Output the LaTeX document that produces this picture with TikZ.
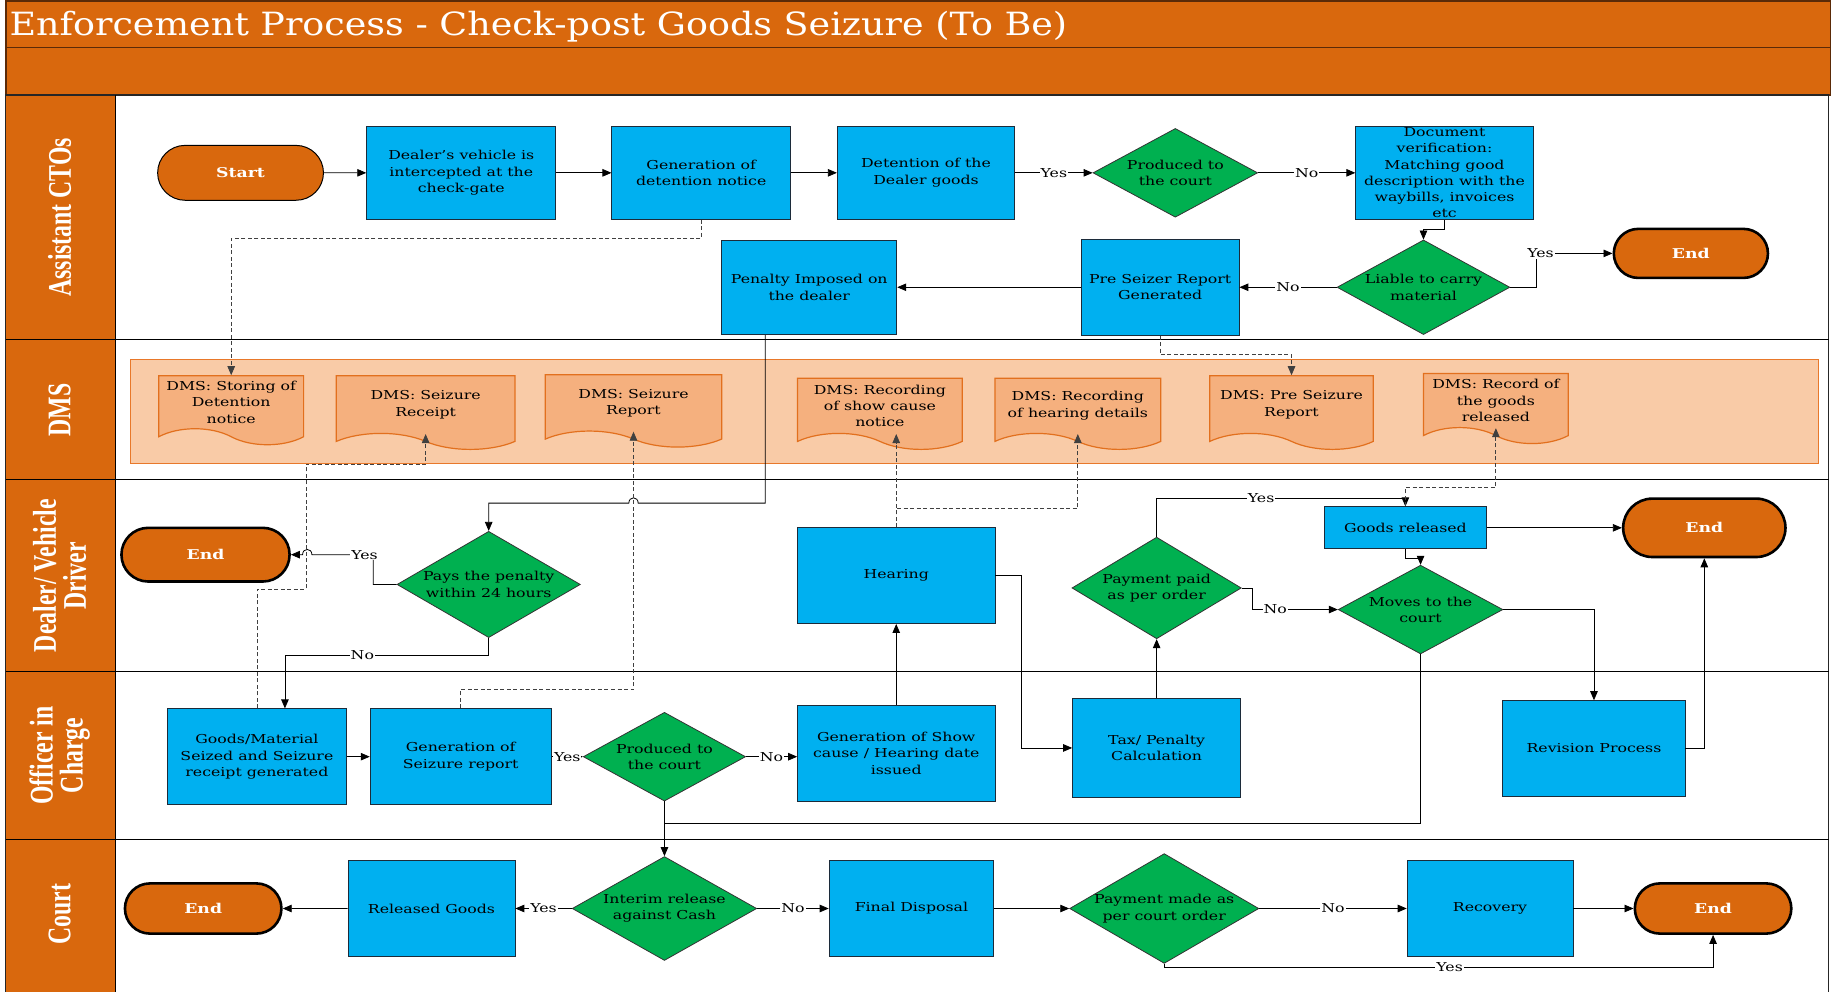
\documentclass[tikz,border=0pt]{standalone}
\usepackage{fontspec}
\setmainfont{DejaVu Serif}[FakeStretch=1.28]
\newfontfamily\headfont{Liberation Serif}[FakeStretch=0.72]
\newfontfamily\titlefont{DejaVu Serif}[FakeStretch=1.14]
\usetikzlibrary{shapes.geometric,shapes.misc,shapes.symbols,calc,arrows.meta}

\definecolor{hdr}{HTML}{D9680D}
\definecolor{bandedge}{HTML}{5A2A08}
\definecolor{procblue}{HTML}{00B0F0}
\definecolor{decgreen}{HTML}{00B050}
\definecolor{dmsfill}{HTML}{F9CBA7}
\definecolor{dmsedge}{HTML}{E8782A}
\definecolor{docfill}{HTML}{F5B07E}
\definecolor{docedge}{HTML}{E2701E}
\definecolor{boxedge}{HTML}{1C2B3A}

\tikzset{
  sz/.style 2 args={minimum width=#1*1.1677pt, minimum height=#2*1.1677pt},
  txt/.style={inner sep=0pt, font=\fontsize{12.3}{16.3}\selectfont, align=center},
  proc/.style={txt, rectangle, draw=boxedge, line width=0.8pt, fill=procblue},
  dec/.style={txt, diamond, draw=black!80, line width=0.8pt, fill=decgreen},
  term/.style={rounded rectangle, draw=black, line width=1pt, fill=hdr, text=white,
    font=\fontsize{13.5}{15}\selectfont\bfseries, inner sep=0pt},
  termend/.style={term, line width=2.6pt},
  doc/.style={txt, tape, tape bend top=none, tape bend bottom=out and in,
    tape bend height=16pt, draw=docedge, line width=1.2pt, fill=docfill},
  tip/.style={-{Triangle[length=9pt,width=7.5pt]}},
  link/.style={draw=black, line width=0.8pt},
  flow/.style={link, tip},
  dlink/.style={draw=black!75, line width=0.8pt, dash pattern=on 4pt off 2.5pt, tip},
  lbl/.style={fill=white, inner sep=1pt, font=\fontsize{12.3}{14}\selectfont},
  headtxt/.style={text=white, align=center, rotate=90,
    font=\headfont\bfseries\fontsize{33}{30}\selectfont},
}

\begin{document}
\begin{tikzpicture}[x=1.1677pt, y=-1.1677pt]
\useasboundingbox (0,0) rectangle (1568,849);

% title bands
\fill[hdr] (5,0) rectangle (1568,81.4);
\draw[bandedge, line width=1.5pt] (5,0.7) rectangle (1568,40.8);
\draw[bandedge, line width=1.5pt] (5,40.8) rectangle (1568,81.4);
\node[anchor=base west, text=white, inner sep=0pt,
  font=\titlefont\fontsize{32}{36}\selectfont] (title) at (8,30)
  {Enforcement Process - Check-post Goods Seizure (To Be)};

% swimlanes
\fill[hdr] (5,81.4) rectangle (98.5,860);
\draw[line width=1.2pt, black!85] (5,81.4) rectangle (1566,860);
\draw[line width=1pt] (98.5,81.4) -- (98.5,860);
\foreach \yy in {290.5,411,575,718.5}
  \draw[line width=1pt] (5,\yy) -- (1566,\yy);

\node[headtxt] (hcto) at (51,186) {Assistant CTOs};
\node[headtxt] (hdms) at (51,351) {DMS};
\node[headtxt] (hdlr) at (51,493) {Dealer/ Vehicle\\Driver};
\node[headtxt] (hoic) at (51,647) {Officer in\\Charge};
\node[headtxt] (hcrt) at (51,783) {Court};

% DMS container and documents
\draw[dmsedge, fill=dmsfill, line width=1.2pt] (112,308) rectangle (1557,397);
\node[doc, sz={124}{59}] (m1) at (198,344.5) {DMS: Storing of\\Detention\\notice};
\node[doc, sz={153}{63}] (m2) at (364.5,346.5) {DMS: Seizure\\Receipt};
\node[doc, sz={151}{62}] (m3) at (542.5,345) {DMS: Seizure\\Report};
\node[doc, sz={141}{61}] (m4) at (753.5,347.5) {DMS: Recording\\of show cause\\notice};
\node[doc, sz={142}{61}] (m5) at (923,347.5) {DMS: Recording\\of hearing details};
\node[doc, sz={140}{63}] (m6) at (1106,346.5) {DMS: Pre Seizure\\Report};
\node[doc, sz={124}{60}] (m7) at (1281,343) {DMS: Record of\\the goods\\released};

% Assistant CTOs
\node[term, sz={142}{47}] (start) at (206,148) {Start};
\node[proc, sz={162}{80}] (b1) at (395,148) {Dealer’s vehicle is\\intercepted at the\\check-gate};
\node[proc, sz={153}{80}] (b2) at (600.5,148) {Generation of\\detention notice};
\node[proc, sz={152}{80}] (b3) at (793,148) {Detention of the\\Dealer goods};
\node[dec, sz={141}{76}, label={[txt]center:{Produced to\\the court}}] (d1) at (1006.5,148) {};
\node[proc, sz={152}{80}] (b4) at (1237,148) {Document\\verification:\\Matching good\\description with the\\waybills, invoices\\etc};
\node[dec, sz={148}{81}, label={[txt]center:{Liable to carry\\material}}] (d2) at (1219,246) {};
\node[termend, sz={132}{42}] (end1) at (1448,217) {End};
\node[proc, sz={135}{82}] (b5) at (993.5,246) {Pre Seizer Report\\Generated};
\node[proc, sz={150}{81}] (b6) at (693,246) {Penalty Imposed on\\the dealer};

% Dealer / Vehicle Driver
\node[termend, sz={144}{46}] (end2) at (176,475) {End};
\node[dec, sz={157}{91}, label={[txt]center:{Pays the penalty\\within 24 hours}}] (d3) at (418.5,500.5) {};
\node[proc, sz={169}{82}] (hear) at (767.5,493) {Hearing};
\node[dec, sz={145}{87}, label={[txt]center:{Payment paid\\as per order}}] (d4) at (990.5,503.5) {};
\node[proc, sz={139}{36}] (grel) at (1203.5,452) {Goods released};
\node[dec, sz={141}{76}, label={[txt]center:{Moves to the\\court}}] (d5) at (1216.5,522) {};
\node[termend, sz={139}{50}] (end3) at (1459.5,452) {End};

% Officer in Charge
\node[proc, sz={154}{82}] (b7) at (220,648) {Goods/Material\\Seized and Seizure\\receipt generated};
\node[proc, sz={155}{82}] (b8) at (394.5,648) {Generation of\\Seizure report};
\node[dec, sz={139}{76}, label={[txt]center:{Produced to\\the court}}] (d6) at (569,648) {};
\node[proc, sz={169}{82}] (b9) at (767.5,645) {Generation of Show\\cause / Hearing date\\issued};
\node[proc, sz={144}{85}] (tax) at (990.5,640.5) {Tax/ Penalty\\Calculation};
\node[proc, sz={156}{82}] (rev) at (1365,641) {Revision Process};

% Court
\node[termend, sz={134}{43}] (end4) at (174,778) {End};
\node[proc, sz={143}{82}] (rel) at (369.5,778) {Released Goods};
\node[dec, sz={158}{89}, label={[txt]center:{Interim release\\against Cash}}] (d7) at (569,778) {};
\node[proc, sz={141}{82}] (fin) at (780.5,778) {Final Disposal};
\node[dec, sz={162}{94}, label={[txt]center:{Payment made as\\per court order}}] (d8) at (997,778) {};
\node[proc, sz={142}{82}] (rec) at (1276,778) {Recovery};
\node[termend, sz={134}{43}] (end5) at (1467,778) {End};

% ---- connectors: Assistant CTOs
\draw[flow] (start) -- (b1);
\draw[flow] (b1) -- (b2);
\draw[flow] (b2) -- (b3);
\draw[flow] (b3) -- node[lbl] (y1) {Yes} (d1);
\draw[flow] (d1) -- node[lbl] (n1) {No} (b4);
\draw[flow] (b4.south) -- ++(0,8) -| (d2.north);
\draw[flow] (d2.east) -- ++(22,0) |- node[lbl, pos=0.53] (y2) {Yes} (end1.west);
\draw[flow] (d2) -- node[lbl] (n2) {No} (b5);
\draw[flow] (b5) -- (b6);
\draw[dlink] (b2.south) -- ++(0,16) -| (m1.north);
\draw[dlink] (b5.south) -- ++(0,16) -| (m6.north);

% penalty imposed -> pays the penalty (hops over the dashed line)
\coordinate (pj) at ($(b6.south west)!0.25!(b6.south east)+(0,144)$);
\draw[flow] ($(b6.south west)!0.25!(b6.south east)$) -- (pj)
  -- ($(pj -| m3.south)+(4,0)$) .. controls +(0,-6) and +(0,-6) .. ($(pj -| m3.south)+(-4,0)$)
  -| (d3.north);

% ---- Dealer / Vehicle Driver
\draw[flow] (d3.west) -- ++(-20,0) |- ($(end2.east)+(18,0)$)
  .. controls +(0,-6) and +(0,-6) .. ($(end2.east)+(10,0)$) -- (end2.east);
\node[lbl] (y3) at ($(end2.east)+(63,0)$) {Yes};
\draw[flow] (d3.south) -- ++(0,15) -| node[lbl, pos=0.31] (n3) {No} ($(b7.north)+(24,0)$);
\draw[flow] (hear.east) -- ++(22,0) |- (tax.west);
\draw[flow] (tax.north) -- (d4.south);
\draw[flow] (d4.north) -- ++(0,-33) -| node[lbl, pos=0.21] (y5) {Yes} (grel.north);
\draw[dlink] (grel.north) -- ++(0,-16) -| (m7.south);
\draw[flow] (grel) -- (end3);
\draw[flow] (grel.south) -- ++(0,8) -| (d5.north);
\draw[flow] (d4.east) -- ++(9,0) |- node[lbl, pos=0.635] (n4) {No} (d5.west);
\draw[flow] (d5.east) -| (rev.north);
\draw[flow] (rev.east) -| (end3.south);
\draw[link] (d5.south) |- ($(d6.south)+(0,19)$);
\draw[dlink] (hear.north) -- (hear.north |- m4.south);
\draw[dlink] (hear.north) -- ++(0,-16) -| (m5.south);

% ---- Officer in Charge
\draw[flow] (b7) -- (b8);
\draw[flow] (b8) -- node[lbl] (y4) {Yes} (d6);
\draw[flow] (d6.east) -- node[lbl] (n7) {No} (d6.east -| b9.west);
\draw[flow] (b9.north) -- (hear.south);
\draw[flow] (d6.south) -- (d7.north);
\draw[dlink] (b7.north) -- ++(0,-102) -- ++(42,0) -- ++(0,-107) -| (m2.south);
\draw[dlink] (b8.north) -- ++(0,-16) -| (m3.south);

% ---- Court
\draw[flow] (d7) -- node[lbl] (y6) {Yes} (rel);
\draw[flow] (rel) -- (end4);
\draw[flow] (d7) -- node[lbl] (n5) {No} (fin);
\draw[flow] (fin) -- (d8);
\draw[flow] (d8) -- node[lbl] (n6) {No} (rec);
\draw[flow] (rec) -- (end5);
\draw[flow] (d8.south) -- ++(0,3) -| node[lbl, pos=0.26] (y7) {Yes} (end5.south);
\end{tikzpicture}
\end{document}
